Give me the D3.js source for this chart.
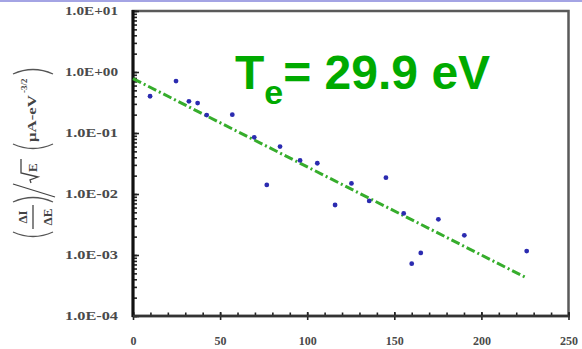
<!DOCTYPE html>
<html>
<head>
<meta charset="utf-8">
<script src="https://cdn.jsdelivr.net/npm/d3@7"></script>
<style>
  body { margin: 0; background: #fff; }
  svg { display: block; }
  .tick-label { font-family: "Liberation Serif", serif; font-weight: bold; fill: #4a4a4a; }
</style>
</head>
<body>
<div id="chart"></div>
<script>
// dados (energia em eV, corrente normalizada)
const xValues = [9.8, 24.7, 32.1, 37.1, 42.3, 57.0, 69.6, 76.8, 84.4, 95.9, 105.8, 116, 125.4, 135.6, 145.2, 155.4, 160, 165.2, 175.3, 190.2, 226];
const yValues = [0.40, 0.71, 0.33, 0.31, 0.197, 0.20, 0.085, 0.0141, 0.060, 0.0355, 0.0319, 0.0066, 0.0149, 0.0077, 0.0185, 0.0048, 0.00072, 0.00108, 0.00385, 0.0021, 0.00116];

// reta do ajuste (extremos)
const fitX = [0, 226];
const fitY = [0.78, 0.00042];

// ticks dos eixos
const xTicks = [0, 50, 100, 150, 200, 250];
const xMinorTicks = d3.range(0, 251, 10);
const yTicks = [1e1, 1e0, 1e-1, 1e-2, 1e-3, 1e-4];
const yTickLabels = ["1.0E+01", "1.0E+00", "1.0E-01", "1.0E-02", "1.0E-03", "1.0E-04"];

const width = 582;
const height = 349;

const plot = { left: 133, right: 568.5, top: 11, bottom: 316 };

const svg = d3.select("#chart")
  .append("svg")
  .attr("width", width)
  .attr("height", height);

// linha lilás no topo da imagem
svg.append("rect")
  .attr("x", 0).attr("y", 0)
  .attr("width", width).attr("height", 2)
  .attr("fill", "#a4a4e4");

const x = d3.scaleLinear().domain([0, 250]).range([plot.left, plot.right]);
const y = d3.scaleLog().domain([1e-4, 1e1]).range([plot.bottom, plot.top]);

// moldura do gráfico
svg.append("rect")
  .attr("x", plot.left)
  .attr("y", plot.top)
  .attr("width", plot.right - plot.left)
  .attr("height", plot.bottom - plot.top)
  .attr("fill", "none")
  .attr("stroke", "#5a5a5a")
  .attr("stroke-width", 2.5);

// ticks menores do eixo y (para dentro)
const yMinor = svg.append("g")
  .attr("transform", `translate(${plot.left},0)`)
  .call(d3.axisRight(y).tickValues(y.ticks()).tickSize(4).tickFormat(""));

const yMajor = svg.append("g")
  .attr("transform", `translate(${plot.left},0)`)
  .call(d3.axisRight(y).tickValues(yTicks).tickSize(6).tickFormat(""));

// labels do eixo y
const yLabels = svg.append("g")
  .attr("transform", `translate(${plot.left},0)`)
  .call(d3.axisLeft(y).tickValues(yTicks).tickSize(0).tickPadding(15)
    .tickFormat((d, i) => yTickLabels[i]));

// ticks do eixo x
const xMinor = svg.append("g")
  .attr("transform", `translate(0,${plot.bottom})`)
  .call(d3.axisTop(x).tickValues(xMinorTicks).tickSize(3.5).tickFormat(""));

const xMajor = svg.append("g")
  .attr("transform", `translate(0,${plot.bottom})`)
  .call(d3.axisBottom(x).tickValues(xTicks).tickSize(4).tickPadding(16).tickFormat(d3.format("d")));

const xMajorTop = svg.append("g")
  .attr("transform", `translate(0,${plot.bottom})`)
  .call(d3.axisTop(x).tickValues(xTicks).tickSize(4).tickFormat(""));

[yMinor, yMajor, yLabels, xMinor, xMajor, xMajorTop].forEach((g) => {
  g.select(".domain").remove();
  g.selectAll(".tick line").attr("stroke", "#222").attr("stroke-width", 1.6);
  g.selectAll(".tick text")
    .attr("class", "tick-label")
    .attr("font-size", 12);
});

// labels do y são mais largas no original
yLabels.selectAll(".tick text")
  .attr("textLength", 53)
  .attr("lengthAdjust", "spacingAndGlyphs");

// eixos em preto mais grossos
svg.append("line")
  .attr("x1", plot.left).attr("x2", plot.left)
  .attr("y1", plot.top - 1).attr("y2", plot.bottom + 1)
  .attr("stroke", "#111").attr("stroke-width", 3);

svg.append("line")
  .attr("x1", plot.left).attr("x2", plot.right + 1)
  .attr("y1", plot.bottom).attr("y2", plot.bottom)
  .attr("stroke", "#333").attr("stroke-width", 2.5);

// reta de ajuste tracejada (traço-ponto)
const fitData = fitX.map((d, i) => ({ x: d, y: fitY[i] }));
svg.append("path")
  .datum(fitData)
  .attr("fill", "none")
  .attr("stroke", "#36ad2c")
  .attr("stroke-width", 3)
  .attr("stroke-dasharray", "9,3,2,3")
  .attr("d", d3.line().x((d) => x(d.x)).y((d) => y(d.y)));

// pontos medidos
svg.append("g")
  .selectAll("circle")
  .data(xValues.map((d, i) => ({ x: d, y: yValues[i] })))
  .enter()
  .append("circle")
  .attr("cx", (d) => x(d.x))
  .attr("cy", (d) => y(d.y))
  .attr("r", 2.4)
  .attr("fill", "#2b2bb0");

// título Te = 29.9 eV
const title = svg.append("text")
  .attr("x", 235)
  .attr("y", 89)
  .attr("font-family", "'Liberation Sans', Arial, sans-serif")
  .attr("font-weight", "bold")
  .attr("font-size", 48)
  .attr("fill", "#00aa00");

title.append("tspan").text("T");
title.append("tspan").attr("font-size", 34).attr("dy", 15).text("e");
title.append("tspan").attr("dy", -15).text("= 29.9 eV");

// label do eixo y (rotacionado), montado em pedaços
const yl = svg.append("g")
  .attr("transform", "translate(30,300) rotate(-90)")
  .attr("font-family", "'Liberation Serif', serif")
  .attr("font-weight", "bold")
  .attr("fill", "#444");

const parenStroke = (g, d) => g.append("path")
  .attr("d", d)
  .attr("fill", "none")
  .attr("stroke", "#555")
  .attr("stroke-width", 1.3);

parenStroke(yl, "M68,-17 Q59,3 68,23");
parenStroke(yl, "M98,-17 Q107,3 98,23");

yl.append("text").attr("x", 83).attr("y", -3).attr("font-size", 13)
  .attr("text-anchor", "middle").text("ΔI");
yl.append("line").attr("x1", 71).attr("x2", 95).attr("y1", 3).attr("y2", 3)
  .attr("stroke", "#444").attr("stroke-width", 1.3);
yl.append("text").attr("x", 83).attr("y", 22).attr("font-size", 13)
  .attr("text-anchor", "middle").text("ΔE");

// barra de divisão
yl.append("line").attr("x1", 103).attr("y1", 25).attr("x2", 116).attr("y2", -17)
  .attr("stroke", "#444").attr("stroke-width", 1.3);

// raiz de E
yl.append("path")
  .attr("d", "M117,1 L120,0 L123,8 L127,-9 L141,-9")
  .attr("fill", "none").attr("stroke", "#444").attr("stroke-width", 1.3);
yl.append("text").attr("x", 128).attr("y", 7).attr("font-size", 13).text("E");

parenStroke(yl, "M156,-17 Q147,3 156,23");
parenStroke(yl, "M226,-17 Q235,3 226,23");

yl.append("text").attr("x", 158).attr("y", 6).attr("font-size", 13)
  .attr("textLength", 47).attr("lengthAdjust", "spacingAndGlyphs").text("μA-eV");
yl.append("text").attr("x", 207).attr("y", -3).attr("font-size", 9).text("-3/2");
</script>
</body>
</html>
